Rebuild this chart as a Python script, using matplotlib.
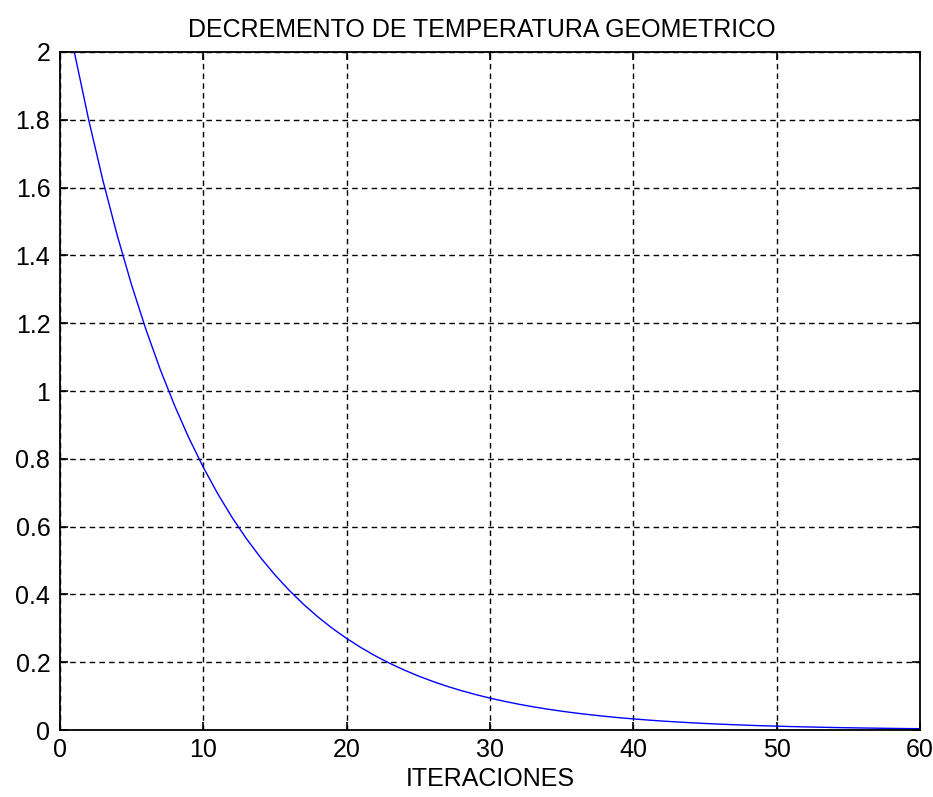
import matplotlib
matplotlib.use("Agg")
import matplotlib.pyplot as plt

# iteraciones y temperatura
iteraciones = list(range(1, 61))
temperatura = [2.0, 1.8, 1.62, 1.458, 1.3122, 1.181, 1.0629, 0.9566, 0.8609, 0.7748,
               0.6974, 0.6276, 0.5649, 0.5084, 0.4575, 0.4118, 0.3706, 0.3335, 0.3002, 0.2702,
               0.2432, 0.2188, 0.1970, 0.1773, 0.1595, 0.1436, 0.1292, 0.1163, 0.1047, 0.0942,
               0.0848, 0.0763, 0.0687, 0.0618, 0.0556, 0.0501, 0.0451, 0.0406, 0.0365, 0.0329,
               0.0296, 0.0266, 0.0240, 0.0216, 0.0194, 0.0175, 0.0157, 0.0142, 0.0127, 0.0115,
               0.0103, 0.0093, 0.0084, 0.0075, 0.0068, 0.0061, 0.0055, 0.0049, 0.0044, 0.0040]
xticks = [0, 10, 20, 30, 40, 50, 60]
yticks = [0, 0.2, 0.4, 0.6, 0.8, 1, 1.2, 1.4, 1.6, 1.8, 2]
ylabels = ['0', '0.2', '0.4', '0.6', '0.8', '1', '1.2', '1.4', '1.6', '1.8', '2']

plt.rcParams['font.family'] = ['Liberation Sans', 'DejaVu Sans']
plt.rcParams['font.size'] = 18

fig = plt.figure(figsize=(9.33, 7.97), dpi=100)
ax = fig.add_axes([0.0643, 0.084, 0.9217, 0.8508])
ax.plot(iteraciones, temperatura, color='blue', linewidth=1.0)
ax.set_xlim(0, 60)
ax.set_ylim(0, 2)
ax.set_xticks(xticks)
ax.set_yticks(yticks)
ax.set_yticklabels(ylabels)
ax.grid(True, color='black', linestyle=(0, (4, 3)), linewidth=1.0)
ax.tick_params(direction='in', top=True, right=True, length=6, width=1.2)
ax.tick_params(axis='x', pad=6)
ax.tick_params(axis='y', pad=7)
for s in ax.spines.values():
    s.set_linewidth(1.3)
ax.set_title('DECREMENTO DE TEMPERATURA GEOMETRICO', fontsize=18, pad=11, x=0.491)
ax.set_xlabel('ITERACIONES', fontsize=18, labelpad=3)

fig.savefig('out.png', dpi=100)
